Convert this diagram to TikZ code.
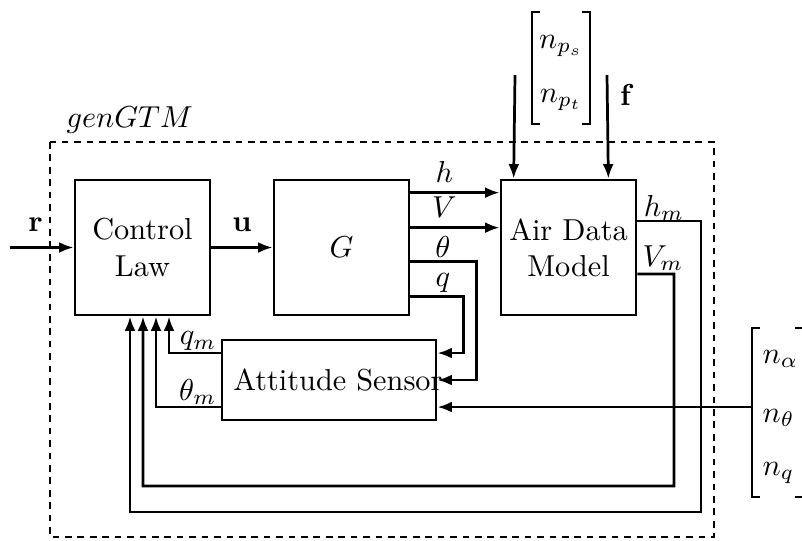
\documentclass[tikz,border=0pt]{standalone}
\usetikzlibrary{calc,arrows.meta}
\begin{document}
\begin{tikzpicture}[x=0.33pt,y=-0.33pt,
  blk/.style={draw,line width=0.9pt,minimum width=44.55pt,minimum height=44.55pt,inner sep=0pt,align=center},
  wire/.style={line width=0.9pt},
  arr/.style={wire,-{Latex[length=4.8pt,width=3.6pt]}},
  brk/.style={line width=0.55pt},
  lbl/.style={inner sep=0pt},
  frame/.style={line width=0.8pt,dash pattern=on 2.2pt off 1.9pt}]
\useasboundingbox (0,0) rectangle (802,540);

% subsystem frame
\draw[frame] (50,142) rectangle (714,537);
\node[lbl,anchor=base west] (title) at (66,127) {$genGTM$};

% blocks
\node[blk] (cl) at (142.5,247.5) {Control\\Law};
\node[blk] (g) at (341.5,247.5) {$G$};
\node[blk] (adm) at (568.5,247.5) {Air Data\\Model};
\node[blk,minimum width=70.62pt,minimum height=26.4pt] (att) at (329,380) {};
\node[lbl] (attl) at (338,380) {Attitude Sensor};

% external inputs
\coordinate (rin) at (10,247.5);
\draw[arr] (rin) -- (cl.west) node[lbl,pos=0.4,above=5pt] (rl) {$\mathbf{r}$};
\draw[arr] (cl.east) -- (g.west) node[lbl,midway,above=5pt] (ul) {$\mathbf{u}$};

% G outputs
\draw[arr] ($(g.north east)+(0,14)$) -- ($(adm.north west)+(0,14)$)
  node[lbl,pos=0.38,above=3pt] (hl) {$h$};
\draw[arr] ($(g.north east)+(0,49)$) -- ($(adm.north west)+(0,49)$)
  node[lbl,pos=0.38,above=3pt] (vl) {$V$};
\draw[arr] ($(g.north east)+(0,83)$) -| ($(att.east)+(39,0)$) -- (att.east);
\node[lbl] (thl) at (443,247) {$\theta$};
\draw[arr] ($(g.north east)+(0,118)$) -| ($(att.east)+(26,-27)$) -- ($(att.east)+(0,-27)$);
\node[lbl] (ql) at (443,283) {$q$};

% noise vector (right)
\coordinate (nlt) at (752,328);
\coordinate (nlb) at (752,497);
\draw[brk] ($(nlt)+(8,0)$) -- (nlt) -- (nlb) -- ($(nlb)+(8,0)$);
\draw[brk] (795,328) -- (804,328) -- (804,497) -- (795,497);
\node[lbl,anchor=west] (na) at (762,359) {$n_\alpha$};
\node[lbl,anchor=west] (nt) at (762,418) {$n_\theta$};
\node[lbl,anchor=west] (nq) at (762,473) {$n_q$};
\coordinate (nin) at (752,407);
\draw[arr] (nin) -- ($(att.east)+(0,27)$);

% noise vector (top)
\coordinate (ptl) at (532,12);
\coordinate (pbl) at (532,124);
\draw[brk] ($(ptl)+(8,0)$) -- (ptl) -- (pbl) -- ($(pbl)+(8,0)$);
\draw[brk] (582,12) -- (590,12) -- (590,124) -- (582,124);
\node[lbl] (nps) at (561,46) {$n_{p_s}$};
\node[lbl] (npt) at (561,100) {$n_{p_t}$};
\coordinate (pin) at (515,75);
\coordinate (fin) at (607,75);
\draw[arr] (pin) -- ($(adm.north west)+(14,0)$);
\draw[arr] (fin) -- ($(adm.north east)+(-29,0)$);
\node[lbl] (fl) at (627,95) {$\mathbf{f}$};

% Attitude sensor outputs
\draw[arr] ($(att.west)+(0,-27)$) -| ($(cl.south)+(26.5,0)$);
\node[lbl,anchor=east] (qml) at (217,341) {$q_m$};
\draw[arr] ($(att.west)+(0,27)$) -| ($(cl.south)+(13.5,0)$);
\node[lbl,anchor=east] (thml) at (217,392) {$\theta_m$};

% Air data outputs
\draw[arr] ($(adm.east)+(0,26.5)$) -- (674,274) -- (674,486) -| ($(cl.south)+(0.5,0)$);
\node[lbl] (vml) at (663,258) {$V_m$};
\draw[arr] ($(adm.east)+(0,-26.5)$) -- (701,221) -- (701,512) -| ($(cl.south)+(-12.5,0)$);
\node[lbl] (hml) at (664,208) {$h_m$};
\end{tikzpicture}
\end{document}
